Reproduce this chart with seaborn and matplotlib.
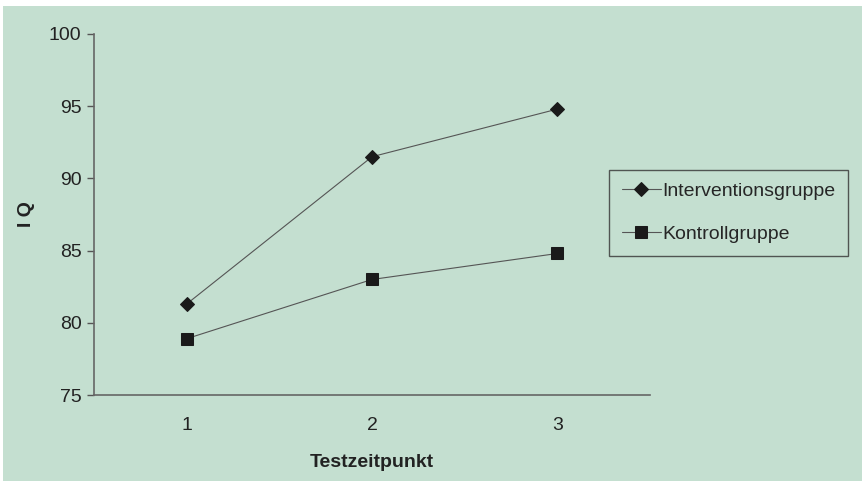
import matplotlib
matplotlib.use("Agg")
import matplotlib.pyplot as plt
from matplotlib.patches import Rectangle
import pandas as pd
import seaborn as sns

# --- Données ---
testzeitpunkt = [1, 2, 3]
intervention  = [81.3, 91.5, 94.8]
kontrolle     = [78.9, 83.0, 84.8]
gruppen       = ["Interventionsgruppe", "Kontrollgruppe"]
y_ticks       = [75, 80, 85, 90, 95, 100]

df = pd.DataFrame({
    "Testzeitpunkt": testzeitpunkt * 2,
    "IQ": intervention + kontrolle,
    "Gruppe": [gruppen[0]] * 3 + [gruppen[1]] * 3,
})

sns.set_style("white")
plt.rcParams["font.family"] = ["Liberation Sans", "DejaVu Sans"]

BG = "#c4dfd0"
fig = plt.figure(figsize=(8.66, 4.84), dpi=100)
fig.patches.append(Rectangle((3 / 866, 1 - 481 / 484), 859 / 866, 475 / 484,
                             transform=fig.transFigure, facecolor=BG,
                             edgecolor="none", zorder=-10))
ax = fig.add_axes([94 / 866, 1 - 395 / 484, 556 / 866, 361 / 484])
ax.set_facecolor("none")

markers = {gruppen[0]: "D", gruppen[1]: "s"}
sizes   = {gruppen[0]: 7.5, gruppen[1]: 9}
for g in gruppen:
    sns.lineplot(data=df[df["Gruppe"] == g], x="Testzeitpunkt", y="IQ",
                 ax=ax, color="#555555", linewidth=0.8, marker=markers[g],
                 markersize=sizes[g], markerfacecolor="#1a1a1a",
                 markeredgecolor="#1a1a1a", label=g)

ax.set_xlim(0.5, 3.5)
ax.set_ylim(75, 100)
ax.set_yticks(y_ticks)
ax.set_xticks(testzeitpunkt)
ax.set_xticks([0.5, 1.5, 2.5, 3.5], minor=True)
ax.tick_params(axis="x", which="major", length=0, labelsize=14, pad=16,
               colors="#222222")
ax.tick_params(axis="x", which="minor", length=6, width=1, color="#555555",
               direction="out")
ax.tick_params(axis="y", length=5, width=1, color="#555555", direction="out",
               labelsize=14, pad=4, labelcolor="#222222")
ax.tick_params(axis="both", bottom=True, left=True)

for s in ["top", "right"]:
    ax.spines[s].set_visible(False)
for s in ["left", "bottom"]:
    ax.spines[s].set_color("#666666")
    ax.spines[s].set_linewidth(1.2)

ax.set_xlabel("Testzeitpunkt", fontsize=14, fontweight="bold", labelpad=14,
              color="#222222")
ax.set_ylabel("I Q", fontsize=14, fontweight="bold", labelpad=10,
              color="#222222")

# Légende encadrée à droite du graphique
leg = ax.legend(loc="upper left", bbox_to_anchor=(609 / 866, 1 - 170 / 484),
                bbox_transform=fig.transFigure, borderaxespad=0,
                fontsize=14, frameon=True, fancybox=False,
                handlelength=2.0, handletextpad=0.1, labelspacing=1.3,
                borderpad=0.65)
leg.get_frame().set_edgecolor("#333333")
leg.get_frame().set_facecolor("none")
leg.get_frame().set_linewidth(1)

fig.savefig("out.png", dpi=100)
